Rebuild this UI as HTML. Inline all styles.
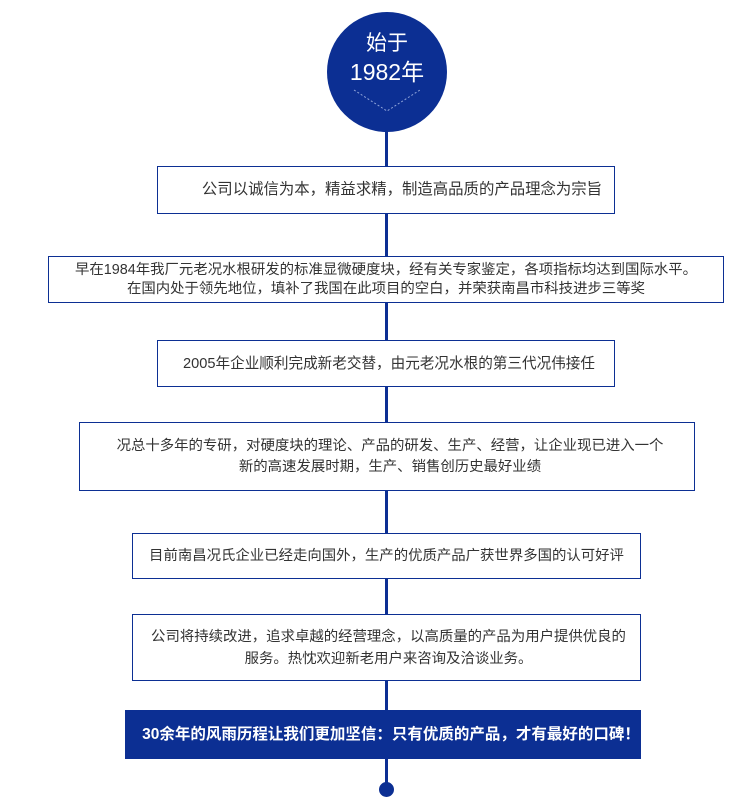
<!DOCTYPE html>
<html><head><meta charset="utf-8"><style>
body{margin:0;width:750px;height:805px;background:#fff;position:relative;overflow:hidden;font-family:"Liberation Sans","Noto Sans CJK SC",sans-serif;}
.line{position:absolute;left:385px;top:100px;width:3px;height:690px;background:#0c2f93;}
.circ{position:absolute;left:327px;top:12px;width:120px;height:120px;border-radius:50%;background:#0c2f93;color:#fff;text-align:center;}
.circ .t1{position:absolute;top:19px;width:100%;font-size:21px;line-height:26px;}
.circ .t2{position:absolute;top:46px;width:100%;font-size:23px;line-height:28px;}
.box{position:absolute;background:#fff;border:1px solid #0c2f93;box-sizing:border-box;display:flex;align-items:center;justify-content:center;text-align:center;font-size:14.4px;line-height:20px;color:#333;}
.dark{background:#0c2f93;color:#fff;font-size:15.5px;font-weight:bold;border:none;}
.dot{position:absolute;left:379px;top:782px;width:15px;height:15px;border-radius:50%;background:#0c2f93;}
</style></head><body>
<div class="line"></div>
<div class="circ"><div class="t1">始于</div><div class="t2">1982年</div>
<svg style="position:absolute;left:0;top:0" width="120" height="120"><polyline points="27,78 60,99 93,78" fill="none" stroke="#8fa3d8" stroke-width="1" stroke-dasharray="2,2"/></svg></div>
<div class="box" style="left:157px;top:166px;width:458px;height:48px;font-size:15.4px;padding-left:32px;">公司以诚信为本，精益求精，制造高品质的产品理念为宗旨</div>
<div class="box" style="left:48px;top:256px;width:676px;height:47px;line-height:19px;">早在1984年我厂元老况水根研发的标准显微硬度块，经有关专家鉴定，各项指标均达到国际水平。<br>在国内处于领先地位，填补了我国在此项目的空白，并荣获南昌市科技进步三等奖</div>
<div class="box" style="left:157px;top:340px;width:458px;height:47px;font-size:14.6px;padding-left:6px;">2005年企业顺利完成新老交替，由元老况水根的第三代况伟接任</div>
<div class="box" style="left:79px;top:422px;width:616px;height:69px;line-height:21px;padding-left:6px;">况总十多年的专研，对硬度块的理论、产品的研发、生产、经营，让企业现已进入一个<br>新的高速发展时期，生产、销售创历史最好业绩</div>
<div class="box" style="left:132px;top:533px;width:509px;height:46px;">目前南昌况氏企业已经走向国外，生产的优质产品广获世界多国的认可好评</div>
<div class="box" style="left:132px;top:614px;width:509px;height:67px;line-height:22px;padding-left:4px;">公司将持续改进，追求卓越的经营理念，以高质量的产品为用户提供优良的<br>服务。热忱欢迎新老用户来咨询及洽谈业务。</div>
<div class="box dark" style="left:125px;top:710px;width:516px;height:49px;padding-left:16px;">30余年的风雨历程让我们更加坚信：只有优质的产品，才有最好的口碑！</div>
<div class="dot"></div>
</body></html>
